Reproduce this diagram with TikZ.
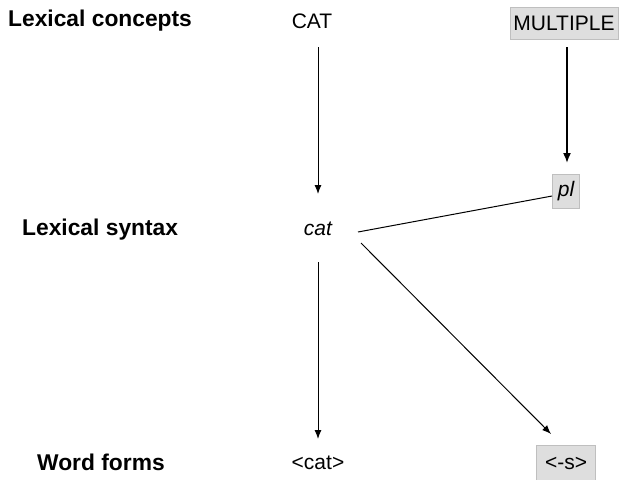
\documentclass[tikz,border=0pt]{standalone}
\usepackage{fontspec}
\setmainfont{Liberation Sans}
\usetikzlibrary{arrows.meta}
\begin{document}
\begin{tikzpicture}[x=1pt,y=-1pt,
  level/.style={font=\fontsize{22.8}{27}\selectfont\bfseries, inner sep=0pt, anchor=west},
  word/.style={font=\fontsize{21}{25}\selectfont, inner sep=0pt},
  feature/.style={font=\fontsize{21}{25}\selectfont, draw=black!25, fill=black!13, inner sep=0pt, line width=0.8pt},
  link/.style={line width=1pt},
  arr/.style={link, -{Latex[length=9pt,width=7pt]}},
  heavy/.style={line width=1.6pt, -{Latex[length=10pt,width=8pt]}}]
  \useasboundingbox (0,0) rectangle (620,479);

  % row labels
  \node[level] (lc) at (8,21) {Lexical concepts};
  \node[level] (ls) at (22,230) {Lexical syntax};
  \node[level] (wf) at (37,462) {Word forms};

  % concepts
  \node[word] (CAT) at (312,21) {CAT};
  \node[feature, minimum width=108pt, minimum height=32pt] (MULT) at (564,23) {MULTIPLE};

  % syntax
  \node[word] (cat) at (318,229) {\itshape cat};
  \node[feature, minimum width=27pt, minimum height=34pt] (pl) at (566,191) {\itshape pl};

  % forms
  \node[word] (fcat) at (318,463) {<cat>};
  \node[feature, minimum width=59pt, minimum height=36pt] (fs) at (566,463) {<-s>};

  % connectors
  \coordinate (catR) at (358,232);
  \coordinate (catD) at (361,243);
  \coordinate (fsTip) at (551,434);
  \draw[arr] (318,47) -- (318,194);
  \draw[heavy] (567,47) -- (567,163);
  \draw[link] (catR) -- (pl.west |- 0,196);
  \draw[arr] (318,262) -- (318,439);
  \draw[arr] (catD) -- (fsTip);
\end{tikzpicture}
\end{document}
